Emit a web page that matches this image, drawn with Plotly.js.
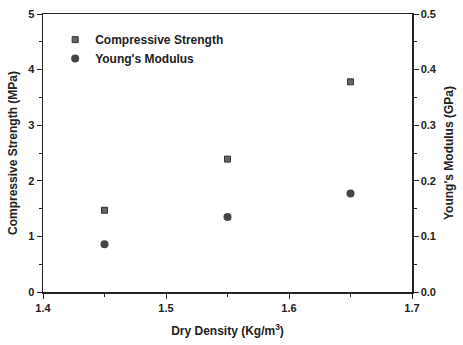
<!DOCTYPE html>
<html><head><meta charset="utf-8">
<script src="https://cdn.plot.ly/plotly-3.0.1.min.js"></script>
<style>html,body{margin:0;padding:0;background:#fff;}#c{width:463px;height:345px;}</style>
</head><body><div id="c"></div>
<script>
const density = [1.45, 1.55, 1.65];
const compressiveStrength = [1.47, 2.39, 3.78];
const youngsModulus = [0.086, 0.135, 0.177];
const seriesNames = ["Compressive Strength", "Young's Modulus"];

const F = {family: 'Liberation Sans, Arial, sans-serif', size: 11, color: '#222', weight: 'bold'};

const data = [
  {x: density, y: compressiveStrength, type: 'scatter', mode: 'markers', name: seriesNames[0],
   marker: {symbol: 'square', size: 6, color: '#666', line: {color: '#333', width: 1}}, yaxis: 'y'},
  {x: density, y: youngsModulus, type: 'scatter', mode: 'markers', name: seriesNames[1],
   marker: {symbol: 'circle', size: 8, color: '#444'}, yaxis: 'y2'}
];

const layout = {
  width: 463, height: 345,
  margin: {l: 43, r: 51, t: 14, b: 53},
  paper_bgcolor: '#fff', plot_bgcolor: '#fff',
  font: F,
  showlegend: true,
  legend: {x: 0.033, y: 0.96, xanchor: 'left', yanchor: 'top', bgcolor: 'rgba(0,0,0,0)', font: {family: F.family, size: 12, color: '#222', weight: 'bold'}},
  xaxis: {range: [1.4, 1.7], dtick: 0.1, tickformat: '.1f', showgrid: false, zeroline: false,
    showline: true, linecolor: '#222', linewidth: 1.5, mirror: true, ticks: 'outside', ticklen: 5, tickcolor: '#222',
    minor: {dtick: 0.05, ticks: 'outside', ticklen: 3, tickcolor: '#222', showgrid: false},
    tickfont: F,
    title: {text: 'Dry Density (Kg/m<sup>3</sup>)', font: {family: F.family, size: 12, color: '#222', weight: 'bold'}, standoff: 14}},
  yaxis: {range: [0, 5], dtick: 1, showgrid: false, zeroline: false,
    showline: true, linecolor: '#222', linewidth: 1.5, ticks: 'outside', ticklen: 5, tickcolor: '#222',
    minor: {dtick: 0.5, ticks: 'outside', ticklen: 3, tickcolor: '#222', showgrid: false},
    tickfont: F,
    title: {text: 'Compressive Strength (MPa)', font: {family: F.family, size: 12, color: '#222', weight: 'bold'}, standoff: 8}},
  yaxis2: {range: [0, 0.5], dtick: 0.1, tickformat: '.1f', overlaying: 'y', side: 'right', showgrid: false, zeroline: false,
    showline: true, linecolor: '#222', linewidth: 1.5, ticks: 'outside', ticklen: 5, tickcolor: '#222',
    minor: {dtick: 0.05, ticks: 'outside', ticklen: 3, tickcolor: '#222', showgrid: false},
    tickfont: F,
    title: {text: "Young's Modulus (GPa)", font: {family: F.family, size: 12, color: '#222', weight: 'bold'}, standoff: 8}}
};

Plotly.newPlot('c', data, layout, {staticPlot: true, displayModeBar: false});
</script></body></html>
